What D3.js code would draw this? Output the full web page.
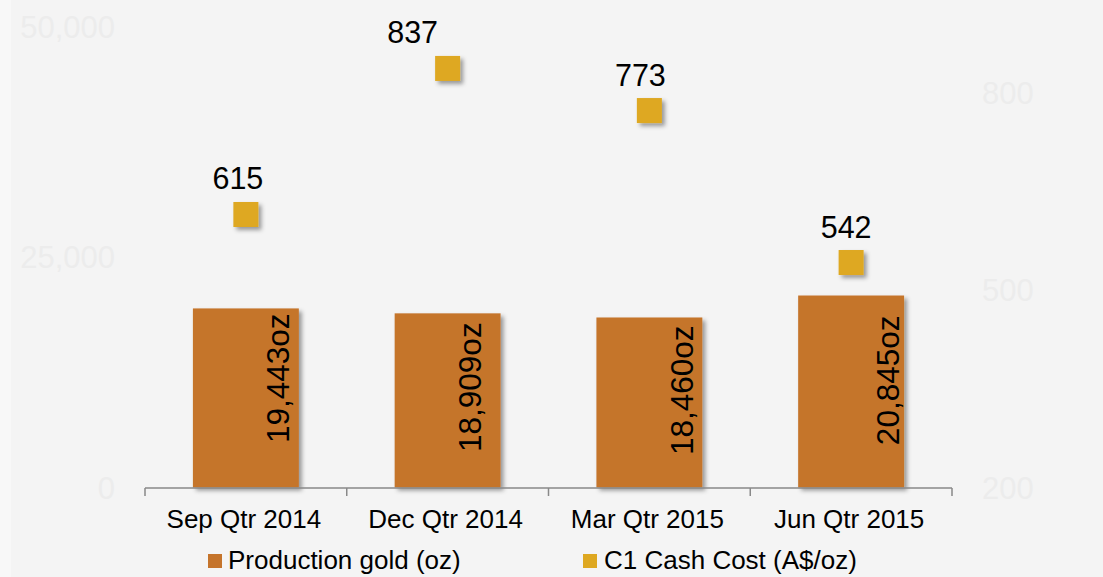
<!DOCTYPE html>
<html><head><meta charset="utf-8">
<script src="https://cdn.jsdelivr.net/npm/d3@7"></script>
<style>
html,body{margin:0;padding:0;background:#f4f4f4;}
svg{display:block;font-family:"Liberation Sans",Arial,sans-serif;}
</style></head>
<body>
<svg id="chart" width="1103" height="577"></svg>
<script>
// ---- data ----
const categories = ["Sep Qtr 2014", "Dec Qtr 2014", "Mar Qtr 2015", "Jun Qtr 2015"];
const production = [19443, 18909, 18460, 20845];
const cashCost = [615, 837, 773, 542];
const leftTicks = [0, 25000, 50000];
const rightTicks = [200, 500, 800];
const seriesNames = ["Production gold (oz)", "C1 Cash Cost (A$/oz)"];

// ---- styling ----
const barColor = "#c5742b";
const markerColor = "#dea821";
const costLabelDx = [-8, -35, -9, -5];
const barLabelDx = [43, 33, 44, 48];
const barLabelDy = [5, 9, 8, 20];

const svg = d3.select("#chart");
svg.append("rect").attr("x",0).attr("y",0).attr("width",11).attr("height",577).attr("fill","#f8f8f8");

const defs = svg.append("defs");
const f = defs.append("filter").attr("id","shadow").attr("x","-20%").attr("y","-20%").attr("width","150%").attr("height","150%");
f.append("feDropShadow").attr("dx",3).attr("dy",3).attr("stdDeviation",2.2).attr("flood-color","#000").attr("flood-opacity",0.38);

const x = d3.scaleBand().domain(categories).range([145, 952]).padding(0);
const yL = d3.scaleLinear().domain([0, 50000]).range([487.5, 27]);
const yR = d3.scaleLinear().domain([200, 900]).range([487.5, 27]);
const barW = x.bandwidth() * 0.525;

// faint axis tick labels
const axisColor = "#ececec";
svg.append("g").selectAll("text").data(leftTicks).join("text")
  .attr("x", 115).attr("y", d => yL(d)).attr("dy", "0.36em")
  .attr("text-anchor", "end").attr("font-size", 31).attr("fill", axisColor)
  .text(d => d3.format(",")(d));
svg.append("g").selectAll("text").data(rightTicks).join("text")
  .attr("x", 982).attr("y", d => yR(d)).attr("dy", "0.36em")
  .attr("text-anchor", "start").attr("font-size", 31).attr("fill", axisColor)
  .text(d => d);

// bars
svg.append("g").selectAll("rect").data(production).join("rect")
  .attr("x", (d,i) => x(categories[i]) + x.bandwidth()/2 - barW/2)
  .attr("y", d => yL(d))
  .attr("width", barW)
  .attr("height", d => yL(0) - yL(d))
  .attr("fill", barColor)
  .attr("filter", "url(#shadow)");

// x axis
const xAxis = d3.axisBottom(x).tickSize(0).tickFormat("");
const gx = svg.append("g").attr("transform", `translate(0,${yL(0)+0.5})`).call(xAxis);
gx.select(".domain").attr("stroke", "#898989").attr("stroke-width", 1.5).attr("d", "M145,0H952");
const bounds = categories.map(c => x(c)).concat([x.range()[1]]);
gx.selectAll(".bnd").data(bounds).join("line").attr("class","bnd")
  .attr("x1", d => d).attr("x2", d => d).attr("y1", 0).attr("y2", 8)
  .attr("stroke", "#898989").attr("stroke-width", 1.5);
svg.append("g").selectAll("text").data(categories).join("text")
  .attr("x", d => x(d) + x.bandwidth()/2 - 2).attr("y", 528)
  .attr("text-anchor", "middle").attr("font-size", 26).attr("fill", "#000")
  .text(d => d);

// bar labels (rotated)
svg.append("g").selectAll("text").data(production).join("text")
  .attr("transform", (d,i) => `translate(${x(categories[i]) + x.bandwidth()/2 + barLabelDx[i]},${yL(d) + barLabelDy[i]}) rotate(-90)`)
  .attr("text-anchor", "end").attr("font-size", 31.5).attr("fill", "#000")
  .text(d => d3.format(",")(d) + "oz");

// markers
const ms = 25;
svg.append("g").selectAll("rect").data(cashCost).join("rect")
  .attr("x", (d,i) => x(categories[i]) + x.bandwidth()/2 - ms/2)
  .attr("y", d => yR(d) - ms/2)
  .attr("width", ms).attr("height", ms)
  .attr("fill", markerColor)
  .attr("filter", "url(#shadow)");
svg.append("g").selectAll("text").data(cashCost).join("text")
  .attr("x", (d,i) => x(categories[i]) + x.bandwidth()/2 + costLabelDx[i])
  .attr("y", d => yR(d) - 25)
  .attr("text-anchor", "middle").attr("font-size", 30.5).attr("fill", "#000")
  .text(d => d);

// legend
const legend = [
  {name: seriesNames[0], color: barColor, sx: 208, tx: 228},
  {name: seriesNames[1], color: markerColor, sx: 583, tx: 604}
];
const lg = svg.append("g");
lg.selectAll("rect").data(legend).join("rect")
  .attr("x", d => d.sx).attr("y", 554).attr("width", 14).attr("height", 14)
  .attr("fill", d => d.color);
lg.selectAll("text").data(legend).join("text")
  .attr("x", d => d.tx).attr("y", 569)
  .attr("font-size", 26).attr("fill", "#000")
  .text(d => d.name);
</script>
</body></html>
